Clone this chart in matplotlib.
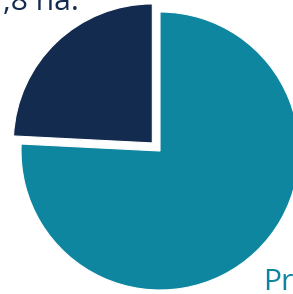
"""cropped pie chart of land area share"""

import matplotlib
matplotlib.use('Agg')
import matplotlib.pyplot as plt

# slice data (percent of total area), drawn clockwise from 12 o'clock
labels = ['Pr', 'Other']
shares = [75.8, 24.2]
colors = ['#0e86a0', '#142b50']
explode = [0, 0.08]  # fraction of radius

# texts visible in the crop
top_text = ',8 ha.'
side_text = 'Pr'

W, H = 293, 294
R = 139
fig = plt.figure(figsize=(W / 100, H / 100), dpi=100)
ax = fig.add_axes([0, 0, 1, 1])

# matplotlib's explode is in data units, so scale it by the radius
ax.pie(
    shares,
    colors=colors,
    explode=[e * R for e in explode],
    startangle=90,
    counterclock=False,
    center=(160, 143),
    radius=R,
    wedgeprops=dict(edgecolor='white', linewidth=0.8),
    frame=True,
)
ax.set_xlim(0, W)
ax.set_ylim(0, H)
ax.set_aspect('equal')
ax.axis('off')

font = ['Open Sans', 'DejaVu Sans']
ax.text(3, 284, top_text, ha='left', va='baseline', fontsize=21.6,
        color=colors[1], family=font)
ax.text(263, 4, side_text, ha='left', va='baseline', fontsize=21.6,
        color=colors[0], family=font)

fig.savefig('out.png', dpi=100)
